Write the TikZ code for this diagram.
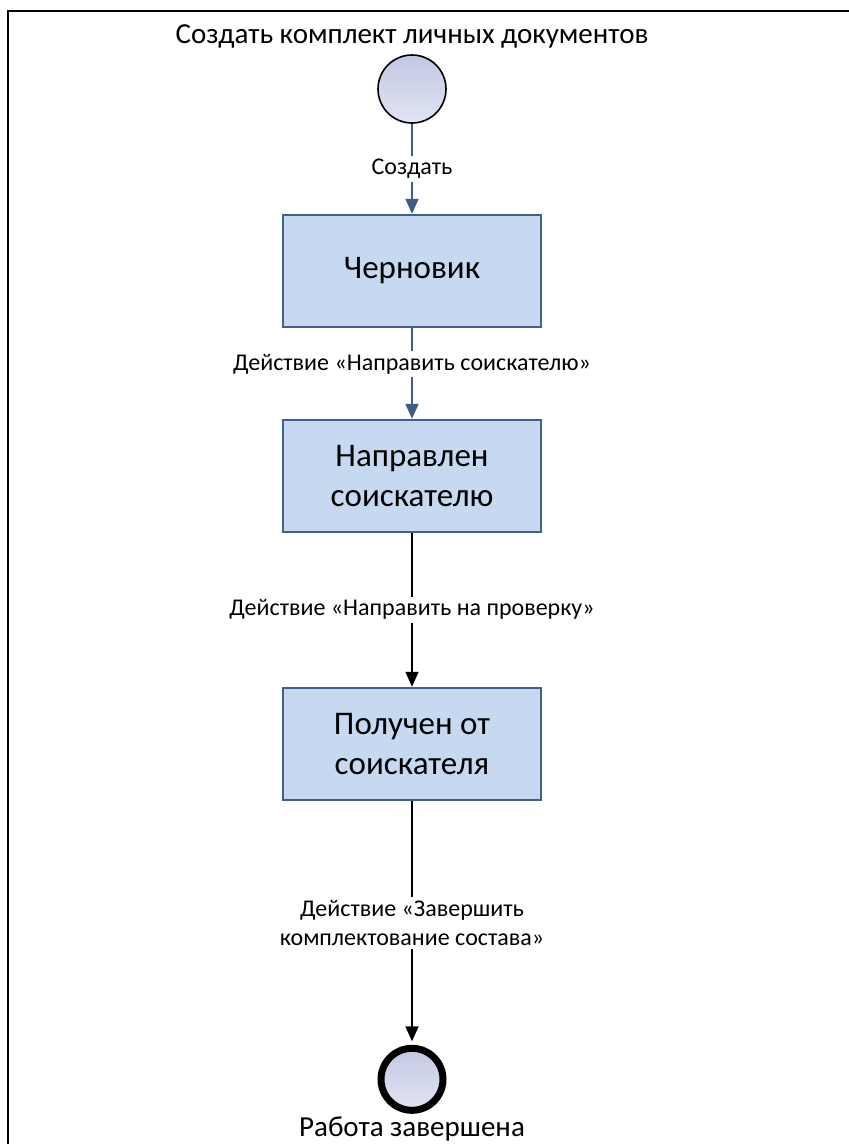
\documentclass[tikz,border=0pt]{standalone}
\usepackage{fontspec}
\setmainfont{Carlito}
\usepackage{tikz}
\usetikzlibrary{arrows.meta, positioning, shapes.geometric}
\usepackage{xcolor}

\definecolor{statefill}{HTML}{C6D9F0}
\definecolor{stateline}{HTML}{41618C}
\definecolor{flowblue}{HTML}{3E5C84}
\definecolor{evtop}{HTML}{C3C8E3}
\definecolor{evbot}{HTML}{E1E4F3}

\begin{document}
\begin{tikzpicture}[x=1pt, y=-1pt,
  node distance=90pt,
  state/.style={draw=stateline, line width=2pt, fill=statefill, align=center,
                minimum width=258pt, minimum height=112pt, inner sep=0pt,
                font=\fontsize{33}{40}\selectfont},
  startev/.style={circle, draw, line width=1.6pt, minimum size=68pt,
                  top color=evtop, bottom color=evbot},
  endev/.style={circle, draw, line width=7pt, minimum size=62pt,
                top color=evtop, bottom color=evbot},
  evtext/.style={inner sep=0pt, font=\fontsize{29}{34}\selectfont},
  lbl/.style={fill=white, align=center, inner sep=3pt,
              font=\fontsize{24}{29}\selectfont},
  arrblue/.style={draw=flowblue, line width=1.8pt,
                  -{Triangle[length=15pt, width=13pt, fill=flowblue]}},
  arrblack/.style={draw=black, line width=1.5pt,
                   -{Triangle[length=15pt, width=13pt]}}]
\useasboundingbox (0,0) rectangle (849,1144);
% frame
\draw[line width=2.5pt] (849,11) -- (8,11) -- (8,1144);

% states
\node[startev] (start) at (412,89) {};
\node[evtext, above=6pt of start] (ttl) {Создать комплект личных документов};
\node[state, below=of start] (draft) {Черновик};
\node[state, below=91pt of draft] (sent) {Направлен\\соискателю};
\node[state, below=154pt of sent] (recv) {Получен от\\соискателя};
\node[endev, below=244pt of recv] (done) {};
\node[evtext, below=3pt of done] (fin) {Работа завершена};

% transitions
\draw[arrblue] (start) -- node[lbl] {Создать} (draft);
\draw[arrblue] (draft) -- node[lbl, pos=0.4] {Действие «Направить соискателю»} (sent);
\draw[arrblack] (sent) -- node[lbl] {Действие «Направить на проверку»} (recv);
\draw[arrblack, shorten >=3.5pt] (recv) -- node[lbl]
  {Действие «Завершить\\комплектование состава»} (done);
\end{tikzpicture}
\end{document}
